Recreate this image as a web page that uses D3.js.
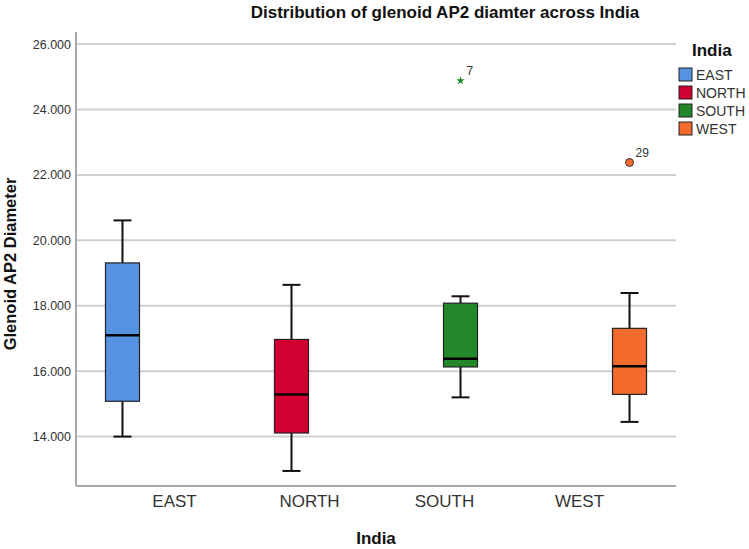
<!DOCTYPE html>
<html>
<head>
<meta charset="utf-8">
<script src="https://cdn.jsdelivr.net/npm/d3@7"></script>
<style>
    body { margin: 0; background: #fff; }
    text { font-family: "Liberation Sans", Arial, sans-serif; }
</style>
</head>
<body>
<script>
//boxplot data
var categories = ["EAST", "NORTH", "SOUTH", "WEST"];
var colors = ["#5592e2", "#d20032", "#23882a", "#f36b2c"];
var whiskerLow = [14.00, 12.95, 15.20, 14.45];
var q1 = [15.08, 14.11, 16.13, 15.29];
var median = [17.10, 15.29, 16.38, 16.15];
var q3 = [19.31, 16.97, 18.08, 17.31];
var whiskerHigh = [20.61, 18.64, 18.29, 18.39];
var outlierCats = ["SOUTH", "WEST"];
var outlierValues = [24.88, 22.38];
var outlierLabels = ["7", "29"];
var outlierShapes = ["star", "circle"];
var yTicks = [14, 16, 18, 20, 22, 24, 26];

(function(){
    var width = 749, height = 549;
    var plotLeft = 76, plotRight = 676, plotTop = 32, plotBottom = 486;

    var svg = d3.select("body").append("svg")
        .attr("width", width)
        .attr("height", height);

    var y = d3.scaleLinear()
        .domain([12.49, 26.37])
        .range([plotBottom, plotTop]);

    //boxes sit on one grid, the category labels on another (as in the original)
    var x = d3.scalePoint()
        .domain(categories)
        .range([plotLeft, plotRight])
        .padding(0.275);

    var xLabel = d3.scalePoint()
        .domain(categories)
        .range([174, 579]);

    var color = d3.scaleOrdinal().domain(categories).range(colors);

    //gridlines
    svg.selectAll(".grid")
        .data(yTicks)
        .enter()
        .append("line")
        .attr("class", "grid")
        .attr("x1", plotLeft)
        .attr("x2", plotRight)
        .attr("y1", function(d){ return y(d); })
        .attr("y2", function(d){ return y(d); })
        .attr("stroke", "#cfcfcf")
        .attr("stroke-width", 2);

    //y axis
    var yAxis = svg.append("g")
        .attr("transform", "translate(" + plotLeft + ",0)")
        .call(d3.axisLeft(y).tickValues(yTicks).tickFormat(d3.format(".3f")).tickSize(0).tickPadding(5));
    yAxis.select(".domain").remove();
    yAxis.selectAll("text")
        .style("font-family", "Liberation Sans, Arial, sans-serif")
        .style("font-size", "12.5px")
        .attr("fill", "#333");

    //axis lines
    svg.append("line")
        .attr("x1", plotLeft).attr("x2", plotLeft)
        .attr("y1", plotTop).attr("y2", plotBottom)
        .attr("stroke", "#a8a8a8").attr("stroke-width", 2);
    svg.append("line")
        .attr("x1", plotLeft).attr("x2", plotRight)
        .attr("y1", plotBottom).attr("y2", plotBottom)
        .attr("stroke", "#a8a8a8").attr("stroke-width", 2);

    //x axis labels
    var xAxis = svg.append("g")
        .attr("transform", "translate(0," + plotBottom + ")")
        .call(d3.axisBottom(xLabel).tickSize(0).tickPadding(9));
    xAxis.select(".domain").remove();
    xAxis.selectAll("text")
        .style("font-family", "Liberation Sans, Arial, sans-serif")
        .style("font-size", "17px")
        .attr("fill", "#333");

    var boxW = 34, capW = 18;
    var groups = svg.selectAll(".box")
        .data(categories)
        .enter()
        .append("g")
        .attr("class", "box");

    //whiskers
    groups.append("line")
        .attr("x1", function(d){ return x(d); })
        .attr("x2", function(d){ return x(d); })
        .attr("y1", function(d, i){ return y(whiskerLow[i]); })
        .attr("y2", function(d, i){ return y(whiskerHigh[i]); })
        .attr("stroke", "#111").attr("stroke-width", 2);
    groups.append("line")
        .attr("x1", function(d){ return x(d) - capW / 2; })
        .attr("x2", function(d){ return x(d) + capW / 2; })
        .attr("y1", function(d, i){ return y(whiskerLow[i]); })
        .attr("y2", function(d, i){ return y(whiskerLow[i]); })
        .attr("stroke", "#111").attr("stroke-width", 2);
    groups.append("line")
        .attr("x1", function(d){ return x(d) - capW / 2; })
        .attr("x2", function(d){ return x(d) + capW / 2; })
        .attr("y1", function(d, i){ return y(whiskerHigh[i]); })
        .attr("y2", function(d, i){ return y(whiskerHigh[i]); })
        .attr("stroke", "#111").attr("stroke-width", 2);

    //boxes
    groups.append("rect")
        .attr("x", function(d){ return x(d) - boxW / 2; })
        .attr("width", boxW)
        .attr("y", function(d, i){ return y(q3[i]); })
        .attr("height", function(d, i){ return y(q1[i]) - y(q3[i]); })
        .attr("fill", function(d){ return color(d); })
        .attr("stroke", "#222")
        .attr("stroke-width", 1.2);

    //medians
    groups.append("line")
        .attr("x1", function(d){ return x(d) - boxW / 2; })
        .attr("x2", function(d){ return x(d) + boxW / 2; })
        .attr("y1", function(d, i){ return y(median[i]); })
        .attr("y2", function(d, i){ return y(median[i]); })
        .attr("stroke", "#000").attr("stroke-width", 2.5);

    //outliers
    var outs = svg.selectAll(".outlier")
        .data(outlierCats)
        .enter()
        .append("g")
        .attr("class", "outlier")
        .attr("transform", function(d, i){
            return "translate(" + x(d) + "," + y(outlierValues[i]) + ")";
        });
    outs.append("path")
        .attr("d", function(d, i){
            return outlierShapes[i] == "star"
                ? d3.symbol().type(d3.symbolStar).size(22)()
                : d3.symbol().type(d3.symbolCircle).size(50)();
        })
        .attr("fill", function(d){ return color(d); })
        .attr("stroke", function(d, i){ return outlierShapes[i] == "star" ? "none" : "#333"; })
        .attr("stroke-width", 1);
    outs.append("text")
        .attr("x", 6)
        .attr("y", -6)
        .style("font-size", "12px")
        .attr("fill", "#333")
        .text(function(d, i){ return outlierLabels[i]; });

    //title
    svg.append("text")
        .attr("x", 445)
        .attr("y", 18)
        .attr("text-anchor", "middle")
        .style("font-size", "17px")
        .style("font-weight", "bold")
        .attr("fill", "#111")
        .text("Distribution of glenoid AP2 diamter across India");

    //axis titles
    svg.append("text")
        .attr("transform", "translate(16,264) rotate(-90)")
        .attr("text-anchor", "middle")
        .style("font-size", "16.5px")
        .style("font-weight", "bold")
        .attr("fill", "#111")
        .text("Glenoid AP2 Diameter");
    svg.append("text")
        .attr("x", 376)
        .attr("y", 544)
        .attr("text-anchor", "middle")
        .style("font-size", "17px")
        .style("font-weight", "bold")
        .attr("fill", "#111")
        .text("India");

    //legend
    var legend = svg.append("g").attr("transform", "translate(679,0)");
    legend.append("text")
        .attr("x", 13)
        .attr("y", 56)
        .style("font-size", "17px")
        .style("font-weight", "bold")
        .attr("fill", "#111")
        .text("India");
    var rows = legend.selectAll(".legendRow")
        .data(categories)
        .enter()
        .append("g")
        .attr("class", "legendRow")
        .attr("transform", function(d, i){ return "translate(0," + (68 + i * 18) + ")"; });
    rows.append("rect")
        .attr("width", 13)
        .attr("height", 13)
        .attr("fill", function(d){ return color(d); })
        .attr("stroke", "#222")
        .attr("stroke-width", 1);
    rows.append("text")
        .attr("x", 17)
        .attr("y", 12)
        .style("font-size", "14px")
        .attr("fill", "#333")
        .text(function(d){ return d; });
})();
</script>
</body>
</html>
